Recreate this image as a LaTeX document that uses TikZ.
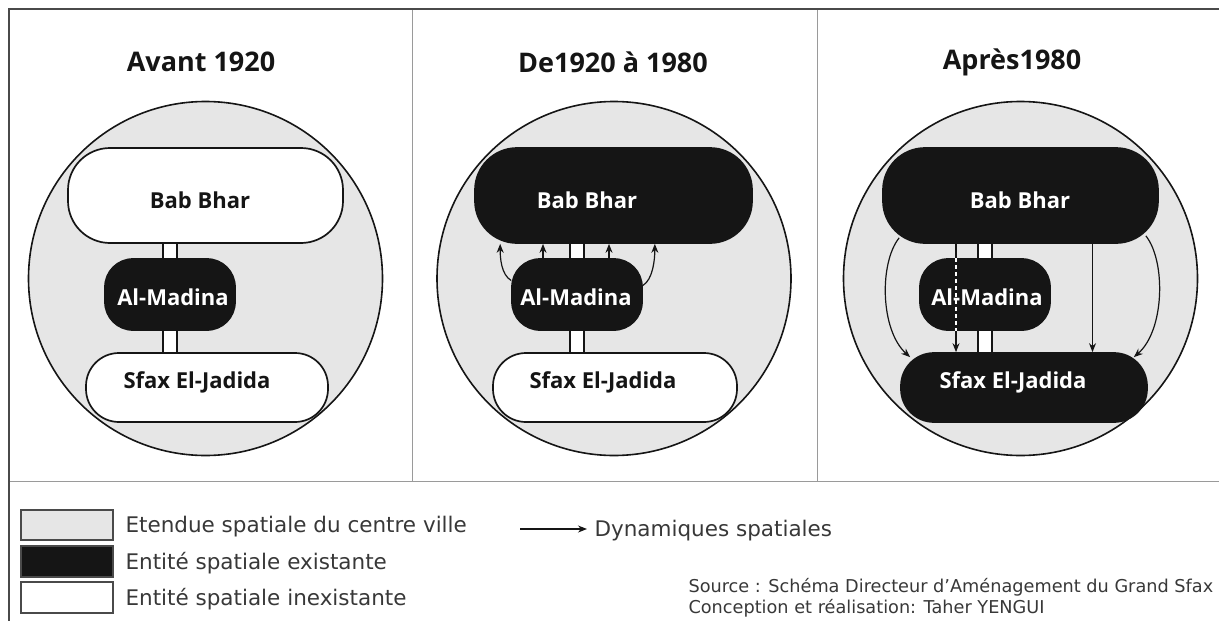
\documentclass[tikz,border=0pt]{standalone}
\usepackage{fontspec}
\setmainfont{DejaVu Sans}
\newfontfamily\labfont{Open Sans}
\usepackage{tikz}
\usetikzlibrary{positioning, arrows.meta, calc}

\definecolor{ink}{HTML}{151515}
\definecolor{zone}{HTML}{E6E6E6}
\definecolor{rule}{HTML}{9A9A9A}
\definecolor{frame}{HTML}{4A4A4A}

% white passage between two boxes, on the axis of #3
\newcommand{\passage}[3]{%
  \path (#3.center) ++(-7,0) coordinate (pl) ++(14,0) coordinate (pr);
  \fill[white] (pl |- #1.south) rectangle (pr |- #2.north);
  \draw[ink, line width=1.6pt] (pl |- #1.south) -- (pl |- #2.north) (pr |- #1.south) -- (pr |- #2.north);
}

\begin{document}
\begin{tikzpicture}[
    x=1pt, y=-1pt,
    entity/.style={draw=ink, line width=1.7pt, rectangle, inner sep=0pt},
    nobox/.style={entity, fill=white},
    exbox/.style={entity, fill=ink},
    bigbox/.style={minimum width=275pt, minimum height=95pt, rounded corners=42pt},
    midbox/.style={minimum width=130pt, minimum height=71pt, rounded corners=28pt},
    lowbox/.style={minimum width=244pt, minimum height=69pt, rounded corners=33pt},
    titletext/.style={font=\labfont\bfseries\fontsize{27}{32}\selectfont, text=ink},
    boxtext/.style={font=\labfont\bfseries\fontsize{22}{26}\selectfont, inner sep=0pt},
    legbox/.style={draw=frame, line width=1.8pt, minimum width=92pt, minimum height=30pt, inner sep=0pt},
    legtext/.style={font=\fontsize{21.5}{25}\selectfont, anchor=base west, text=ink!85},
    srctext/.style={font=\fontsize{17.7}{21}\selectfont, anchor=base west, text=ink!85},
    dyn/.style={-{Stealth[length=9pt,width=7pt]}, line width=1.2pt, draw=ink}
]
    \useasboundingbox (0,0) rectangle (1219,621);

    % --- frame ---
    \draw[rule, line width=1pt] (412,9) -- (412,481) (817,9) -- (817,481) (9,481) -- (1219,481);
    \draw[frame, line width=1.8pt] (9,621) -- (9,9) -- (1219,9);

    % --- titles ---
    \node[titletext] (t1) at (201,62) {Avant 1920};
    \node[titletext] (t2) at (613,62) {De1920 à 1980};
    \node[titletext] (t3) at (1012,62) {Après1980};

    % --- city extent ---
    \fill[zone] (205.5,278.5) circle[radius=177];
    \fill[zone] (614,278.5) circle[radius=177];
    \fill[zone] (1020.5,278.5) circle[radius=177];

    % --- Avant 1920 ---
    \node[nobox, bigbox] (bb1) at (205.5,195.5) {};
    \node[exbox, midbox] (am1) at (170,294.5) {};
    \node[nobox, lowbox, minimum width=242pt] (sj1) at (207,387.5) {};
    \passage{bb1}{am1}{am1}
    \passage{am1}{sj1}{am1}

    % --- De 1920 a 1980 ---
    \node[exbox, bigbox, minimum width=277pt] (bb2) at (613.5,195.5) {};
    \node[exbox, midbox] (am2) at (577,294.5) {};
    \node[nobox, lowbox] (sj2) at (615,387.5) {};
    \passage{bb2}{am2}{am2}
    \passage{am2}{sj2}{am2}

    % --- Apres 1980 ---
    \node[exbox, bigbox] (bb3) at (1020.5,195.5) {};
    \node[exbox, midbox] (am3) at (985,294.5) {};
    \node[exbox, lowbox, minimum width=246pt] (sj3) at (1024,387.5) {};
    \passage{bb3}{am3}{am3}
    \passage{am3}{sj3}{am3}

    % circle outlines over the boxes
    \draw[ink, line width=1.6pt] (205.5,278.5) circle[radius=177];
    \draw[ink, line width=1.6pt] (614,278.5) circle[radius=177];
    \draw[ink, line width=1.6pt] (1020.5,278.5) circle[radius=177];

    % --- dynamics, panel 2 ---
    \coordinate (u1) at ($(am2.north)+(-34,0)$);
    \coordinate (u2) at ($(am2.north)+(32,0)$);
    \draw[dyn] (u1) -- (u1 |- bb2.south);
    \draw[dyn] (u2) -- (u2 |- bb2.south);
    \draw[dyn] ($(am2.west)+(0,-14)$) .. controls +(-10,-6) and +(0,14) .. ($(bb2.south west)+(26,0)$);
    \draw[dyn] ($(am2.east)+(0,-9)$) .. controls +(10,-6) and +(0,16) .. ($(bb2.south east)+(-98,0)$);

    % --- dynamics, panel 3 ---
    \coordinate (d1) at ($(am3.north)+(-29,0)$);
    \coordinate (d2) at ($(bb3.south)+(72,0)$);
    \draw[dyn] (d1 |- bb3.south) -- (d1 |- sj3.north);
    \draw[white, line width=1.2pt, dash pattern=on 4pt off 3pt] (d1 |- am3.north) -- (d1 |- am3.south);
    \draw[dyn] (d2) -- (d2 |- sj3.north);
    \draw[dyn] ($(bb3.south west)+(17,-6)$) .. controls +(-20,25) and +(-30,-27) .. ($(sj3.north west)+(10,5)$);
    \draw[dyn] ($(bb3.south east)+(-13,-8)$) .. controls +(20,25) and +(31,-27) .. ($(sj3.north east)+(-14,5)$);

    % --- box labels ---
    \node[boxtext, text=ink] (lbb1) at (200,200) {Bab Bhar};
    \node[boxtext, text=white] (lam1) at (173,297) {Al-Madina};
    \node[boxtext, text=ink] (lsj1) at (197,382) {Sfax El-Jadida};
    \node[boxtext, text=white] (lbb2) at (587,200) {Bab Bhar};
    \node[boxtext, text=white] (lam2) at (576,297) {Al-Madina};
    \node[boxtext, text=ink] (lsj2) at (603,382) {Sfax El-Jadida};
    \node[boxtext, text=white] (lbb3) at (1020,200) {Bab Bhar};
    \node[boxtext, text=white] (lam3) at (987,297) {Al-Madina};
    \node[boxtext, text=white] (lsj3) at (1013,382) {Sfax El-Jadida};

    % --- legend ---
    \node[legbox, fill=zone] (leg1) at (67,525) {};
    \node[legbox, fill=ink, minimum height=31pt] (leg2) at (67,561.5) {};
    \node[legbox, fill=white, minimum height=31pt] (leg3) at (67,597.5) {};
    \node[legtext] (lt1) at (122,532) {Etendue spatiale du centre ville};
    \node[legtext] (lt2) at (122,569) {Entité spatiale existante};
    \node[legtext] (lt3) at (122,605) {Entité spatiale inexistante};

    \coordinate (dynstart) at (520,529);
    \node[legtext] (dynlbl) at (591,536) {Dynamiques spatiales};
    \draw[dyn, shorten >=4pt] (dynstart) -- (dynstart -| dynlbl.west);

    \node[srctext] (src1) at (685,592) {Source : Schéma Directeur d'Aménagement du Grand Sfax};
    \node[srctext] (src2) at (685,613) {Conception et réalisation: Taher YENGUI};

\end{tikzpicture}
\end{document}
